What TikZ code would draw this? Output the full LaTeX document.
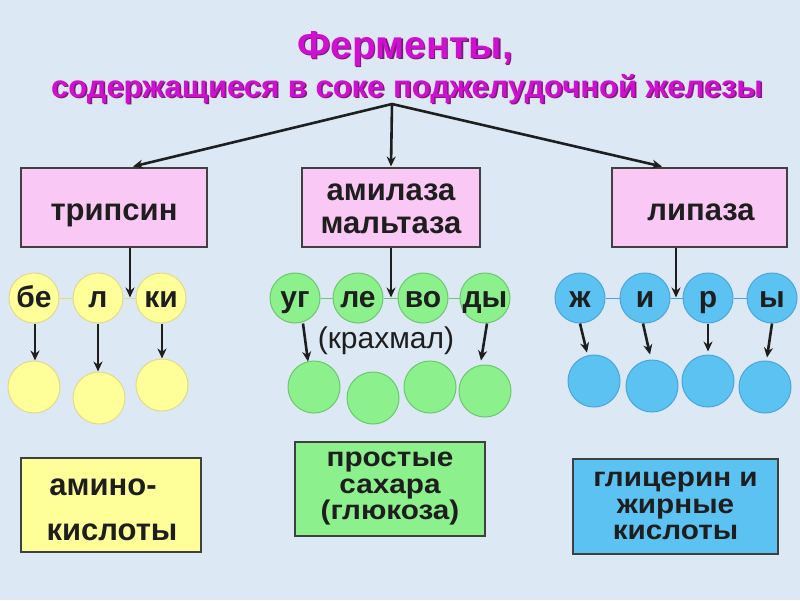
\documentclass[tikz,border=0pt]{standalone}
\usepackage{fontspec}
\setmainfont{Liberation Sans}
\newfontfamily\widefont{Liberation Sans}[FakeStretch=1.1]
\usetikzlibrary{arrows.meta,calc}

\definecolor{bg}{HTML}{DCE8F4}
\definecolor{pinkbox}{HTML}{FAC8F4}
\definecolor{yel}{HTML}{FFFF99}
\definecolor{yelb}{HTML}{E2DA8A}
\definecolor{grn}{HTML}{8CF08C}
\definecolor{grnb}{HTML}{6CC86C}
\definecolor{blu}{HTML}{5CC2F2}
\definecolor{blub}{HTML}{4AA6D8}
\definecolor{mag}{HTML}{D010D0}
\definecolor{magsh}{HTML}{7A1A7A}
\definecolor{ink}{HTML}{1E1E1E}

\tikzset{
  enz/.style={draw=ink!85, line width=2pt, fill=pinkbox, minimum height=79pt},
  btxt/.style={anchor=base, text=ink, inner sep=0pt, font=\bfseries\fontsize{31}{33}\selectfont},
  ball/.style={circle, minimum size=50pt, inner sep=0pt, line width=1pt,
    text=ink, text height=18pt, text depth=0pt,
    font=\bfseries\fontsize{30}{30}\selectfont},
  prod/.style={circle, minimum size=52pt, inner sep=0pt, line width=1pt},
  yb/.style={fill=yel, draw=yelb},
  gb/.style={fill=grn, draw=grnb},
  bb/.style={fill=blu, draw=blub},
  link/.style={line width=0.8pt},
  arr/.style={-{Stealth[length=10pt,width=9pt]}, line width=2.6pt, draw=ink},
  res/.style={draw=ink!85, line width=2pt},
  restxt/.style={res, align=center, text=ink, inner sep=0pt,
    font=\widefont\bfseries\fontsize{27}{26.5}\selectfont},
  ttl/.style={anchor=base, font=\bfseries\fontsize{#1}{#1}\selectfont}
}

\begin{document}
\begin{tikzpicture}[x=1pt,y=-1pt]
\fill[bg] (0,0) rectangle (800,600);
\useasboundingbox (0,0) rectangle (800,600);

% title with shadow
\node[ttl=39, text=magsh] (t1s) at (406.5,59.5) {Ферменты,};
\node[ttl=39, text=mag] (t1) at (405,58) {Ферменты,};
\node[ttl=31, text=magsh] (t2s) at (408.5,98.5) {содержащиеся в соке поджелудочной железы};
\node[ttl=31, text=mag] (t2) at (407,97) {содержащиеся в соке поджелудочной железы};

\coordinate (root) at (392,104);

% enzymes
\node[enz, minimum width=186pt] (trip) at (114,207) {};
\node[btxt] (tript) at (114,220) {трипсин};
\node[enz, minimum width=178pt] (amil) at (391,207) {};
\node[btxt] (amilt1) at (391,200) {амилаза};
\node[btxt] (amilt2) at (391,233) {мальтаза};
\node[enz, minimum width=175pt] (lip) at (699.5,207) {};
\node[btxt] (lipt) at (701,220) {липаза};

\draw[arr] (root) -- ([xshift=19pt]trip.north);
\draw[arr] (root) -- (amil.north);
\draw[arr] (root) -- ([xshift=-37.5pt]lip.north);

% proteins
\node[ball, yb] (p1) at (34,298) {бе};
\node[ball, yb] (p2) at (98,298) {л};
\node[ball, yb] (p3) at (161,298) {ки};
\draw[link, yelb] (p1) -- (p2);
\draw[link, yelb] (p2) -- (p3);
\node[prod, yb] (q1) at (34,387) {};
\node[prod, yb] (q2) at (99,398) {};
\node[prod, yb] (q3) at (162,385) {};
\draw[arr] ([xshift=16pt]trip.south) -- ++(0,50);
\draw[arr] (p1.south -| 35,0) -- (q1.north -| 35,0);
\draw[arr] (p2.south -| 98,0) -- (q2.north -| 98,0);
\draw[arr] (p3.south -| 162,0) -- (q3.north -| 162,0);

% carbohydrates
\node[ball, gb] (c1) at (295,298) {уг};
\node[ball, gb] (c2) at (358,298) {ле};
\node[ball, gb] (c3) at (423,298) {во};
\node[ball, gb] (c4) at (485,298) {ды};
\draw[link, grnb] (c1) -- (c2);
\draw[link, grnb] (c2) -- (c3);
\draw[link, grnb] (c3) -- (c4);
\node[prod, gb] (d1) at (314,387) {};
\node[prod, gb] (d2) at (373,398) {};
\node[prod, gb] (d3) at (430,387) {};
\node[prod, gb] (d4) at (485,391) {};
\node[text=ink, font=\fontsize{30}{32}\selectfont] (kr) at (386,341) {(крахмал)};
\draw[arr] (amil.south) -- ++(0,50);
\draw[arr] ($(c1.south)+(8,0)$) -- ($(d1.north)+(-6,1)$);
\draw[arr] ($(c4.south)+(2,0)$) -- ($(d4.north)+(-4,-4)$);

% fats
\node[ball, bb] (f1) at (580,298) {ж};
\node[ball, bb] (f2) at (645,298) {и};
\node[ball, bb] (f3) at (708,298) {р};
\node[ball, bb] (f4) at (772,298) {ы};
\draw[link, blub] (f1) -- (f2);
\draw[link, blub] (f2) -- (f3);
\draw[link, blub] (f3) -- (f4);
\node[prod, bb] (g1) at (594,381) {};
\node[prod, bb] (g2) at (652,386) {};
\node[prod, bb] (g3) at (708,381) {};
\node[prod, bb] (g4) at (765,387) {};
\draw[arr] ([xshift=-23.5pt]lip.south) -- ++(0,50);
\draw[arr] ($(f1.south)+(0,0)$) -- ($(g1.north)+(-7,-2)$);
\draw[arr] ($(f2.south)+(-2,0)$) -- ($(g2.north)+(-2,-5)$);
\draw[arr] ($(f3.south)+(0,0)$) -- ($(g3.north)+(0,-3)$);
\draw[arr] ($(f4.south)+(0,0)$) -- ($(g4.north)+(2,-3)$);

% results
\node[res, fill=yel, minimum width=180pt, minimum height=94pt] (r1) at (111,505) {};
\node[btxt] (r1a) at (103,495) {амино-};
\node[btxt] (r1b) at (112,540) {кислоты};
\node[restxt, fill=grn, minimum width=190pt, minimum height=94pt] (r2) at (390,489) {простые\\сахара\\(глюкоза)};
\node[restxt, fill=blu, minimum width=205pt, minimum height=95pt] (r3) at (675.5,506) {глицерин и\\жирные\\кислоты};
\end{tikzpicture}
\end{document}
